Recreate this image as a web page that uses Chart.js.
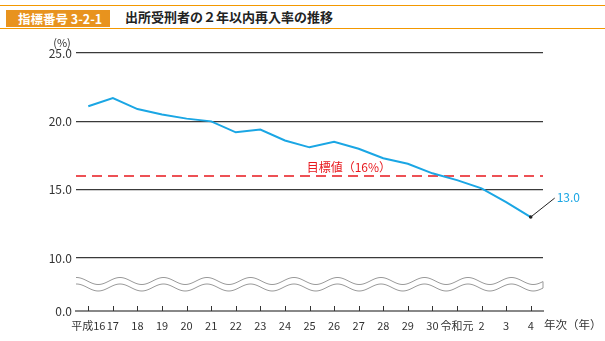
<!DOCTYPE html>
<html>
<head>
<meta charset="utf-8">
<script src="https://cdn.jsdelivr.net/npm/chart.js@4"></script>
<style>
  html, body { margin: 0; padding: 0; background: #fff; }
  body { width: 605px; height: 341px; position: relative; overflow: hidden; font-family: "Noto Sans CJK JP", "Noto Sans", sans-serif; }
  .rule { position: absolute; left: 0; width: 605px; height: 1px; background: #f39800; }
  #badge { position: absolute; left: 6px; top: 10px; width: 104px; height: 17px; background: #e8931e; color: #fff; font-weight: bold; font-size: 12.5px; line-height: 17px; text-indent: 12px; }
  #title { position: absolute; left: 125px; top: 7px; font-size: 13px; font-weight: bold; color: #222; line-height: 20px; }
  #wrap { position: absolute; left: 0; top: 0; width: 605px; height: 341px; }
</style>
</head>
<body>
<div class="rule" style="top:5px"></div>
<div class="rule" style="top:28px"></div>
<div id="badge">指標番号 3-2-1</div>
<div id="title">出所受刑者の２年以内再入率の推移</div>
<div id="wrap"><canvas id="chart"></canvas></div>
<script>
// --- Data ---
const years = ['平成16', '17', '18', '19', '20', '21', '22', '23', '24', '25', '26', '27', '28', '29', '30', '令和元', '2', '3', '4'];
const rates = [21.1, 21.7, 20.9, 20.5, 20.2, 20.0, 19.2, 19.4, 18.6, 18.1, 18.5, 18.0, 17.3, 16.9, 16.2, 15.7, 15.1, 14.1, 13.0];
const yTicks = [10, 15, 20, 25];
const target = 16;
const targetLabel = '目標値（16%）';
const lastLabel = '13.0';

const blue = '#1aa6e4';
const font = '"Noto Sans CJK JP", "Noto Sans", sans-serif';
const yMin = 6.13; // bottom of the broken axis, labelled 0.0

// draws the target line, wave break, up ticks and notes
const extras = {
    id: 'extras',
    beforeDatasetsDraw(chart) {
        const { ctx, chartArea: a, scales: { x, y } } = chart;
        ctx.save();
        // wave break
        const period = 43.5, amp = 3.5;
        const wave = (c, dir) => {
            const pts = [];
            for (let px = a.left; px <= a.right; px += 1) {
                pts.push([px, c - amp * Math.cos(2 * Math.PI * (px - 120) / period)]);
            }
            return dir ? pts : pts.reverse();
        };
        const top = wave(281, true), bot = wave(287.5, false);
        ctx.beginPath();
        top.concat(bot).forEach((p, i) => i ? ctx.lineTo(p[0], p[1]) : ctx.moveTo(p[0], p[1]));
        ctx.closePath();
        ctx.fillStyle = '#fff';
        ctx.fill();
        ctx.strokeStyle = '#999';
        ctx.lineWidth = 1;
        ctx.beginPath();
        top.forEach((p, i) => i ? ctx.lineTo(p[0], p[1]) : ctx.moveTo(p[0], p[1]));
        ctx.stroke();
        ctx.beginPath();
        bot.slice().reverse().forEach((p, i) => i ? ctx.lineTo(p[0], p[1]) : ctx.moveTo(p[0], p[1]));
        ctx.stroke();
        ctx.beginPath();
        ctx.moveTo(top[top.length - 1][0], top[top.length - 1][1]);
        ctx.lineTo(bot[0][0], bot[0][1]);
        ctx.stroke();

        // target line
        const ty = y.getPixelForValue(target);
        ctx.strokeStyle = '#e8191e';
        ctx.lineWidth = 1.5;
        ctx.setLineDash([10, 6]);
        ctx.beginPath();
        ctx.moveTo(a.left, ty);
        ctx.lineTo(a.right, ty);
        ctx.stroke();
        ctx.setLineDash([]);
        ctx.fillStyle = '#e8191e';
        ctx.font = '12px ' + font;
        ctx.textAlign = 'center';
        ctx.textBaseline = 'middle';
        ctx.fillText(targetLabel, x.getPixelForValue(10.6), ty - 9);

        // small ticks pointing up from the x axis
        ctx.strokeStyle = '#333';
        ctx.lineWidth = 1;
        years.forEach((_, i) => {
            const px = Math.round(x.getPixelForValue(i)) + 0.5;
            ctx.beginPath();
            ctx.moveTo(px, a.bottom);
            ctx.lineTo(px, a.bottom - 5);
            ctx.stroke();
        });

        // axis titles
        ctx.fillStyle = '#333';
        ctx.font = '11px ' + font;
        ctx.textAlign = 'center';
        ctx.fillText('(%)', 62, 43);
        ctx.font = '11.5px ' + font;
        ctx.textAlign = 'left';
        ctx.fillText('年次（年）', 544, 325);
        ctx.restore();
    },
    afterDatasetsDraw(chart) {
        const { ctx, scales: { x, y } } = chart;
        const last = rates.length - 1;
        const px = x.getPixelForValue(last), py = y.getPixelForValue(rates[last]);
        ctx.save();
        ctx.strokeStyle = '#222';
        ctx.lineWidth = 1;
        ctx.beginPath();
        ctx.moveTo(px, py);
        ctx.lineTo(px + 24, py - 19);
        ctx.stroke();
        ctx.fillStyle = '#222';
        ctx.beginPath();
        ctx.arc(px, py, 1.8, 0, Math.PI * 2);
        ctx.fill();
        ctx.fillStyle = blue;
        ctx.font = '12px ' + font;
        ctx.textAlign = 'left';
        ctx.textBaseline = 'middle';
        ctx.fillText(lastLabel, px + 26, py - 20);
        ctx.restore();
    }
};

new Chart(document.getElementById('chart'), {
    type: 'line',
    data: {
        labels: years,
        datasets: [{
            data: rates,
            borderColor: blue,
            borderWidth: 2,
            pointRadius: 0,
            tension: 0
        }]
    },
    options: {
        responsive: true,
        maintainAspectRatio: false,
        animation: false,
        layout: { padding: { top: 53, right: 62, left: 0, bottom: 0 } },
        plugins: { legend: { display: false }, tooltip: { enabled: false } },
        scales: {
            x: {
                offset: true,
                afterFit: s => { s.height = 30; },
                grid: { display: false, drawTicks: false },
                border: { color: '#888', width: 2 },
                ticks: { color: '#333', padding: 8, maxRotation: 0, autoSkip: false, font: { size: 11, family: font } }
            },
            y: {
                min: yMin,
                max: 25,
                afterFit: s => { s.width = 76; },
                afterBuildTicks: s => { s.ticks = [yMin].concat(yTicks).map(v => ({ value: v })); },
                grid: {
                    drawTicks: false,
                    color: c => c.tick && c.tick.value < 10 ? 'rgba(0,0,0,0)' : '#3a3a3a',
                    lineWidth: 1.3
                },
                border: { display: false },
                ticks: {
                    color: '#333',
                    padding: 4,
                    font: { size: 12, family: font },
                    callback: v => v < 10 ? '0.0' : v.toFixed(1)
                }
            }
        }
    },
    plugins: [extras]
});
</script>
</body>
</html>
